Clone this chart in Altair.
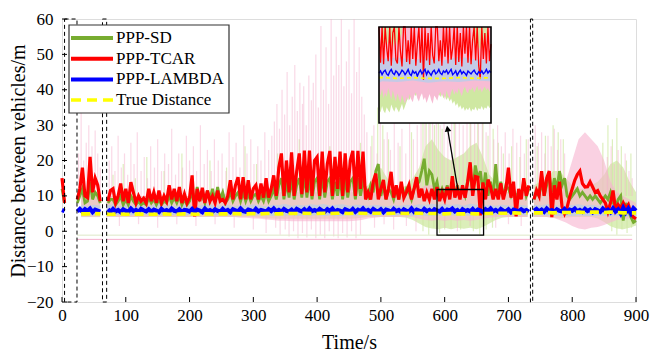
import altair as alt
import numpy as np
import pandas as pd

# ---------------------------------------------------------------- layout
PLOT_W, PLOT_H = 574, 283
PAD = {"left": 62, "top": 19, "right": 14, "bottom": 53}
FONT = "Times New Roman, Liberation Serif, Tinos, DejaVu Serif, serif"

X_DOMAIN = [0, 900]
Y_DOMAIN = [-20, 60]
X_TICKS = [0, 100, 200, 300, 400, 500, 600, 700, 800, 900]
Y_TICKS = [-20, -10, 0, 10, 20, 30, 40, 50, 60]

SERIES = ["PPP-SD", "PPP-TCAR", "PPP-LAMBDA", "True Distance"]
COLORS = ["#77ac30", "#ff0000", "#0000ff", "#ffff00"]
DASHES = [None, None, None, [10, 6]]

PINK = "#f6b3cf"
LIGHT_GREEN = "#cfe8a2"
LIGHT_BLUE = "#aed0ee"

# outage windows (s), outlined with dashed boxes
GAPS = [(4, 23.5), (63.5, 70), (734.5, 738)]
FLOOR_END = 894

# magnified window (s, m) and where its enlargement sits in the plot (px)
ZOOM_T = [588, 661]
ZOOM_V = [-1.1, 11.8]
INSET_X = [317, 429]
INSET_Y = [104, 8]
ARROW = {"t": 620.7, "v": 11.8, "t2": 604.5, "v2": 29.0}

# ---------------------------------------------------------------- sample grids
T4 = np.arange(0, 901, 4)
T10 = np.arange(0, 901, 10)
TZ = np.arange(588, 662, 1)

N = None

# inter-vehicle distance estimates on the 4 s grid (m)
RED_TCAR = [
    15, 8, N, N, N, N, 9, 12, 18, 10,
    9.5, 21, 11, 15, 13, 8.5, N, N, 8.5, 11.5,
    12, 8, 10, 13.5, 8.5, 12, 8, 13.9, 11, 8,
    10, 8.5, 9.3, 8, 12, 8.5, 11, 8, 11.5, 8,
    10, 8.5, 13, 9, 12, 8.5, 12.5, 8, 10.5, 8,
    9.5, 15.8, 4.2, 12, 8.5, 12.3, 8, 11.5, 8.5, 10,
    8, 11.5, 8.5, 9, 8, 10, 14.4, 9, 13, 15.3,
    9, 15.3, 9, 14.4, 9, 12, 13, 9, 13.5, 9.5,
    15, 9.5, 12, 15.8, 10, 18, 22, 10, 20, 11,
    22.3, 10, 17, 22, 10.5, 22.8, 11, 22.8, 10, 20,
    21, 10, 22.5, 11, 19, 22.7, 10, 21, 12, 22.5,
    10, 22, 11, 20, 22.7, 10, 22.7, 12, 22.5, 9,
    11, 9, 14, 16.3, 9, 12, 14.5, 9, 12, 16.8,
    9.5, 13, 9, 14, 9.5, 11, 13, 9, 12, 15.3,
    9.5, 12, 8.5, 11, 9, 12, 9, 12.5, 8.5, 11,
    9, 12.5, 9, 15.6, 9.5, 12, 9, 13, 9.5, 14,
    19.5, 10, 15.5, 15.3, 4.5, 13.8, 9, 14.6, 12.5, 9,
    12, 9, 13.6, 9, 12, 18, 9.5, 14, 4.2, 12,
    9, 15, 10, 13, N, 9, 11.6, 10, 17, 10,
    15, 17, 4, 13, 9, 14, 7, 5, 6.8, 9.7,
    12, 14.4, 16, 17, 13.5, 12.5, 12.6, 14, 12.5, 11,
    11.5, 10, 9, 8, 5.5, 8, 11.5, 6, 7.5, 6.5,
    8, 6.5, 7.5, 5, 4, 3.5,
]
GREEN_SD = [
    12, 8, N, N, N, N, 8, 10, 12, 8,
    8.5, 14, 9, 11, 10, 8, N, N, 8, 9,
    9, 7.5, 8.5, 10, 7.5, 9, 7.5, 10, 8.5, 7.5,
    8.5, 7.5, 8, 7.5, 9.5, 8, 9, 7.5, 9, 7.5,
    8.5, 8, 10, 8, 9.5, 8, 10, 7.5, 9, 7.5,
    8.5, 11, 8, 12.5, 9, 10, 8, 11.5, 9, 12,
    8.5, 12.5, 9, 11, 8, 9, 11, 8.5, 10, 11,
    8.5, 11, 8.5, 10.5, 8.5, 10, 10.5, 8.5, 10, 8.5,
    11, 8.5, 10, 12, 9, 13, 15, 9, 14, 9.5,
    15, 9, 13, 15, 9.5, 16, 9.5, 15, 9, 14,
    15, 9, 16, 9.5, 14, 15, 9, 14, 10, 15,
    9, 15, 9.5, 14, 15, 9, 15, 10, 14, 12,
    10, 13, 11, 17, 19, 10, 13, 9, 12, 11,
    9, 12, 9, 13, 10, 12, 11, 9, 12, 13,
    14, 17, 20.5, 13, 17, 16, 12, 14, 10, 12,
    10, 13, 9.5, 14, 10, 13, 9.5, 12, 10, 14,
    16, 11, 18.6, 15, 17, 11, 16.6, 10, 14, 9.5,
    19, 10, 14, 9.5, 13, 12, 10, 12, 9.5, 11,
    10, 14, 10, 12, N, 9, 11, 10, 14, 10,
    13, 16, 11, 15, 12, 17, 13, 15, 10, 9,
    10, 11, 12, 10, 11, 10, 9, 10, 9, 10,
    9, 8, 9, 10, 9, 11, 8, 7, 9, 10,
    3, 8, 6, 4, 2.5, 3,
]
BLUE_LAMBDA = [
    6.0, 5.7, N, N, N, N, 5.6, 6.3, 5.5, 6.2,
    5.7, 6.4, 5.4, 6.1, 5.8, 5.5, N, N, 6.2, 5.5,
    6.3, 5.6, 6.0, 5.4, 6.2, 5.8, 5.5, 6.4, 5.7, 6.0,
    5.4, 6.3, 5.9, 5.6, 6.2, 5.5, 6.1, 5.8, 5.4, 6.3,
    5.7, 6.0, 5.5, 6.4, 5.8, 5.6, 6.2, 5.4, 6.0, 5.9,
    5.6, 6.3, 5.5, 6.1, 5.8, 5.4, 6.4, 5.7, 6.0, 5.5,
    6.2, 5.8, 5.5, 6.3, 5.6, 6.0, 5.4, 6.2, 5.9, 5.6,
    6.4, 5.7, 5.5, 6.1, 5.9, 5.4, 6.3, 5.6, 6.0, 5.8,
    5.5, 6.2, 5.7, 6.4, 5.6, 6.0, 5.5, 6.3, 5.8, 5.6,
    6.1, 5.4, 6.3, 5.9, 5.6, 6.2, 5.5, 6.4, 5.7, 6.0,
    5.6, 6.3, 5.8, 5.5, 6.2, 5.7, 6.4, 5.5, 6.0, 5.8,
    5.4, 6.2, 5.9, 5.6, 6.3, 5.5, 6.1, 5.7, 6.4, 5.6,
    6.0, 5.5, 6.3, 5.8, 5.6, 6.2, 5.4, 6.1, 5.9, 5.5,
    6.3, 5.7, 6.0, 5.4, 6.2, 5.8, 5.6, 6.4, 5.5, 6.1,
    5.8, 5.5, 6.3, 5.7, 6.0, 5.4, 6.2, 5.9, 5.6, 6.3,
    5.5, 6.1, 5.8, 6.4, 5.6, 6.0, 5.3, 6.2, 5.7, 6.0,
    5.6, 6.3, 5.5, 6.1, 5.9, 5.4, 6.2, 5.7, 6.4, 5.6,
    6.0, 5.5, 6.3, 5.8, 5.6, 6.2, 5.4, 6.1, 5.9, 5.6,
    6.2, 5.7, 6.0, 5.5, N, 5.8, 6.3, 5.6, 6.1, 5.5,
    6.4, 5.7, 6.0, 5.5, 6.2, 5.8, 5.6, 6.3, 5.5, 6.1,
    5.8, 6.4, 5.6, 6.0, 5.5, 6.3, 5.7, 6.1, 5.4, 6.2,
    5.9, 5.5, 6.4, 5.7, 6.1, 5.4, 6.5, 5.6, 6.2, 5.0,
    6.6, 5.3, 6.4, 5.1, 6.5, 5.8,
]

# reference distance and uncertainty envelopes on the 10 s grid (m)
TRUE_DIST = [
    5.0, N, N, 4.9, 4.9, 5.0, 4.9, 4.8, 4.8, 4.9,
    4.8, 4.8, 4.9, 4.8, 4.8, 4.8, 4.9, 4.8, 4.8, 4.9,
    4.9, 4.8, 4.9, 4.9, 4.8, 4.9, 4.9, 5.0, 4.9, 4.9,
    5.0, 4.9, 5.0, 5.0, 4.9, 5.0, 5.0, 5.0, 5.1, 5.0,
    5.0, 5.1, 5.0, 5.1, 5.1, 5.0, 5.1, 5.1, 5.0, 5.1,
    5.1, 5.0, 5.1, 5.1, 5.0, 5.1, 5.1, 5.0, 5.0, 5.0,
    4.9, 5.0, 4.9, 4.9, 5.0, 4.9, 5.0, 5.0, 5.1, 5.1,
    5.1, 5.2, 5.1, 5.2, 5.2, 5.2, 5.3, 5.2, 5.3, 5.3,
    5.3, 5.4, 5.3, 5.4, 5.4, 5.3, 5.4, 5.3, 5.2, 5.2,
    5.2,
]
PINK_HI = [
    11, N, N, 11, 12, 11, 10, 10, 10, 10,
    10, 10, 10, 10, 10, 10, 10, 10, 10, 10,
    10, 11, 10, 10, 10, 10, 11, 11, 11, 11,
    11, 11, 12, 12, 13, 13, 13, 13, 13, 13,
    13, 13, 13, 13, 13, 13, 13, 12, 11, 11,
    11, 11, 11, 11, 11, 11, 12, 13, 13, 12,
    12, 12, 12, 12, 13, 12, 11, 11, 11, 11,
    11, 11, 11, 11, 11, 11, 12, 12, 12, 14,
    20, 26, 28, 26, 24, 20, 14, 11, 10, 9,
    8,
]
PINK_LO = [
    4, N, N, 4, 4, 4, 4, 4, 4, 4,
    4, 4, 4, 4, 4, 4, 4, 4, 4, 4,
    4, 4, 4, 4, 4, 4, 4, 4, 3.8, 3.8,
    3.6, 3.5, 3.3, 3.2, 3.0, 3.0, 2.8, 2.8, 2.8, 2.8,
    2.8, 2.8, 2.8, 2.8, 2.8, 2.8, 3.0, 3.2, 3.6, 3.8,
    4, 4, 4, 4, 4, 4, 3.5, 3.2, 3.0, 3.2,
    3.0, 3.2, 3.0, 3.2, 3.0, 3.2, 3.5, 3.8, 4, 4,
    4, 4, 4, 4, 4, 4, 4, 3.8, 3.2, 2.5,
    1.5, 0.8, 0.5, 1, 1.2, 1.8, 2.5, 3.2, 3.5, 3.5,
    3.5,
]
GREEN_HI = [
    10, N, N, 10, 10, 10, 10, 10, 10, 10,
    10, 10, 10, 10, 10, 10, 10, 10, 10, 10,
    10, 11, 10, 11, 10, 11, 10, 10, 10, 10,
    10, 10, 10, 11, 11, 11, 11, 11, 11, 11,
    11, 11, 11, 11, 11, 11, 11, 12, 13, 16,
    18, 15, 13, 12, 13, 15, 18, 24, 26, 23,
    21, 20, 21, 22, 24, 25, 21, 16, 14, 12,
    11, 11, 12, 13, 13, 14, 15, 17, 17, 15,
    13, 12, 12, 13, 14, 16, 19, 20, 18, 14,
    11,
]
GREEN_LO = [
    4, N, N, 4, 4, 4, 4, 4, 4, 4,
    4, 4, 4, 4, 4, 4, 4, 4, 4, 4,
    4, 4, 4, 4, 4, 4, 4, 4, 4, 4,
    4, 3.8, 3.6, 3.6, 3.5, 3.5, 3.5, 3.5, 3.5, 3.5,
    3.5, 3.5, 3.5, 3.5, 3.5, 3.5, 3.6, 3.8, 4, 4,
    4, 4, 4, 4, 3.8, 3.2, 2.2, 1.2, 0.8, 0.6,
    1.0, 0.6, 1.0, 0.7, 1.0, 0.6, 1.2, 2.2, 3.2, 3.8,
    4, 4, 4, 4, 4, 4, 4, 3.8, 3.6, 3.8,
    4, 4, 4, 4, 3.6, 2.6, 1.4, 0.8, 0.6, 1.0,
    1.6,
]
LB_HI = [
    7.2, N, N, 7.4, 7.1, 7.5, 7.2, 7.3, 7.6, 7.1,
    7.4, 7.2, 7.5, 7.0, 7.3, 7.6, 7.2, 7.4, 7.1, 7.5,
    7.3, 7.0, 7.4, 7.6, 7.2, 7.3, 7.5, 7.1, 7.4, 7.2,
    7.6, 7.3, 7.1, 7.5, 7.4, 7.7, 7.2, 7.5, 7.3, 7.6,
    7.4, 7.7, 7.3, 7.5, 7.6, 7.2, 7.5, 7.4, 7.2, 7.5,
    7.3, 7.1, 7.4, 7.2, 7.5, 7.3, 7.6, 7.4, 7.8, 7.5,
    7.7, 7.4, 7.6, 7.3, 7.8, 7.5, 7.3, 7.4, 7.2, 7.5,
    7.3, 7.1, 7.4, 7.2, 7.5, 7.3, 7.6, 7.4, 7.2, 7.5,
    7.4, 7.6, 7.3, 7.5, 7.2, 7.4, 7.6, 7.3, 7.5, 7.2,
    7.1,
]
LB_LO = [
    4.6, N, N, 4.5, 4.7, 4.4, 4.6, 4.5, 4.7, 4.6,
    4.4, 4.6, 4.5, 4.7, 4.5, 4.4, 4.6, 4.5, 4.7, 4.4,
    4.6, 4.5, 4.7, 4.4, 4.6, 4.5, 4.4, 4.7, 4.5, 4.6,
    4.4, 4.6, 4.5, 4.3, 4.5, 4.4, 4.6, 4.3, 4.5, 4.4,
    4.6, 4.3, 4.5, 4.4, 4.3, 4.6, 4.4, 4.5, 4.6, 4.4,
    4.5, 4.7, 4.4, 4.6, 4.5, 4.3, 4.5, 4.4, 4.3, 4.5,
    4.4, 4.6, 4.3, 4.5, 4.4, 4.6, 4.5, 4.4, 4.6, 4.5,
    4.7, 4.5, 4.6, 4.4, 4.5, 4.6, 4.4, 4.5, 4.3, 4.4,
    4.3, 4.5, 4.4, 4.3, 4.5, 4.4, 4.2, 4.3, 4.1, 4.2,
    4.3,
]

# isolated excursions of the uncertainty bands: (time s, extreme m)
SPIKE_BASE = 10
DIP_BASE = 5
PINK_SPIKES = [
    (26, 22), (30, 34), (34, 20), (38, 25), (42, 30), (47, 24), (52, 28.5), (56, 22), (60, 18),
    (74, 20), (78, 24), (83, 17), (88, 27), (93, 18), (98, 22), (103, 16), (108, 25), (113, 19),
    (118, 28), (124, 17), (129, 21), (134, 15), (139, 24), (145, 18), (150, 26), (156, 17),
    (161, 22), (167, 19), (172, 29), (178, 16), (183, 22), (189, 18), (195, 27), (200, 20),
    (206, 24), (211, 17), (217, 30), (223, 19), (228, 23), (234, 17), (239, 26), (245, 20),
    (251, 22), (257, 17), (262, 28), (268, 21), (273, 25), (279, 18), (285, 30), (290, 22),
    (296, 26), (301, 19), (307, 24), (312, 20), (318, 28), (324, 23), (329, 27),
    (333, 31), (337, 36), (341, 29), (345, 40), (349, 33), (353, 45), (357, 30), (361, 38),
    (365, 47), (369, 34), (373, 42), (377, 36), (379, 41), (383, 30), (387, 44), (391, 37),
    (394, 42), (398, 50), (402, 35), (406, 58), (410, 40), (414, 52), (418, 36), (422, 60),
    (426, 44), (430, 55), (434, 47), (438, 60), (442, 41), (446, 48), (450, 57), (454, 39),
    (458, 60), (462, 45), (466, 52), (470, 38), (474, 33), (478, 28),
    (484, 24), (489, 30), (494, 22), (499, 35), (505, 26), (510, 28), (515, 23), (521, 31),
    (527, 25), (533, 29), (539, 22), (545, 33), (551, 26), (557, 30),
    (563, 40), (569, 36), (575, 45), (581, 32), (587, 38), (593, 30), (599, 36), (605, 28),
    (611, 40), (617, 33), (623, 37), (629, 30), (635, 42), (641, 34), (647, 38), (653, 31),
    (659, 36), (665, 28), (671, 32), (677, 26), (683, 30), (689, 24), (695, 28), (701, 22),
    (707, 29), (713, 25), (719, 27), (725, 22), (731, 26),
    (742, 30), (747, 25), (752, 28), (757, 22), (762, 27), (767, 24), (772, 29), (777, 23),
    (782, 26), (788, 22), (855, 21), (861, 24), (866, 19), (872, 23), (877, 18), (883, 22),
    (889, 17), (894, 15),
]
PINK_DIPS = [
    (90, 1.5), (120, 2), (150, 1), (180, 2), (210, 1.5), (240, 2), (270, 1), (300, 0.5),
    (320, -0.5), (335, 1), (342, -1), (350, 0.5), (356, -1.5), (363, 0), (370, -2),
    (377, -0.5), (384, -1.8), (391, 0.5), (398, -2), (405, -1), (412, -2), (419, 0),
    (426, -1.5), (433, -2), (440, -0.5), (447, -1.8), (454, 0), (461, -2), (468, -1),
    (490, 1), (505, 2), (520, 0.5), (540, 1.5), (555, 0), (600, 1), (620, 0), (640, 1.5),
    (680, 1), (700, 2), (720, 1.5),
]
GREEN_SPIKES = [
    (80, 16), (96, 19), (115, 15), (133, 21), (160, 17), (188, 22), (205, 16), (232, 20),
    (258, 18), (287, 24), (305, 19), (338, 22), (372, 26), (395, 20), (420, 24), (445, 21),
    (468, 25), (486, 27), (495, 35), (503, 30), (512, 26), (530, 24), (548, 28), (566, 38),
    (571, 33), (577, 40), (584, 30), (590, 36), (596, 29), (615, 32), (640, 35), (652, 38),
    (660, 31), (668, 27), (676, 29), (684, 25), (692, 22), (705, 24), (718, 21), (728, 26),
    (745, 24), (758, 27), (770, 30), (778, 28), (786, 26), (848, 25), (856, 30), (863, 26),
    (870, 32), (877, 24), (885, 20), (892, 22),
]
GREEN_DIPS = [
    (566, 0), (575, -1), (583, 1), (592, -0.5), (600, 0.5), (610, 1), (625, 0.5), (645, 0),
    (655, -1), (665, 0.5), (675, 1), (862, 0), (870, -1), (878, 0.5), (886, -0.5), (893, 1),
]
FLOOR_PINK = -2.3
FLOOR_GREEN = -1.1

# magnified window, 1 s samples (m)
INSET_RED = [
    14, 7.0, 12, 6.8, 16, 9, 7.2, 13, 6.6, 11, 15, 7.4, 6.9, 14, 8.5, 6.5, 12, 16, 7.1, 10,
    6.8, 15, 7.5, 13, 6.6, 9.5, 16, 7.0, 12, 4.7, 14, 7.3, 11, 6.7, 15, 8, 6.9, 13, 16, 7.2,
    10, 6.6, 14, 7.8, 12, 6.9, 16, 7.4, 9, 15, 6.7, 13, 7.1, 11, 6.5, 16, 8.2, 12, 7.0, 14,
    6.8, 10, 15, 7.3, 13, 6.6, 4.8, 16, 7.5, 11, 6.9, 14, 7.2, 9.5,
]
INSET_BLUE = [
    5.6, 5.9, 5.4, 5.8, 6.0, 5.5, 5.3, 5.8, 6.1, 5.6, 5.4, 5.9, 5.7, 5.3, 5.6, 6.0, 5.8, 5.4, 5.7, 6.1,
    5.5, 5.3, 5.9, 5.6, 5.8, 5.2, 5.7, 6.0, 5.5, 5.8, 6.1, 5.4, 5.9, 5.6, 5.3, 5.8, 6.0, 5.5, 5.7, 6.1,
    5.6, 5.4, 5.9, 5.7, 6.0, 5.5, 5.8, 6.1, 5.4, 5.6, 5.9, 5.3, 5.7, 6.0, 5.5, 5.8, 5.6, 5.3, 5.9, 5.7,
    5.5, 5.8, 6.0, 5.6, 5.4, 5.8, 5.6, 5.9, 5.5, 5.7, 6.1, 5.6, 5.9, 5.7,
]
INSET_PINK_LO = [
    3.2, 2.6, 3.5, 2.2, 3.0, 2.4, 3.6, 2.8, 2.0, 3.3, 2.5, 1.8, 2.9, 2.2, 1.6, 2.7, 2.0, 1.5, 2.4, 1.9,
    2.8, 2.1, 1.7, 2.6, 3.0, 2.2, 1.8, 2.5, 2.9, 2.0, 2.4, 1.6, 2.2, 2.8, 2.0, 1.5, 2.6, 2.3, 1.9, 2.7,
    3.1, 2.4, 2.9, 2.0, 3.3, 2.6, 2.2, 3.0, 3.5, 2.7, 3.2, 2.8, 3.6, 3.0, 2.5, 3.4, 3.8, 3.1, 2.9, 3.5,
    3.3, 3.7, 3.0, 3.4, 3.9, 3.2, 3.6, 3.0, 3.5, 3.8, 3.3, 3.6, 3.1, 3.4,
]
INSET_GREEN_LO = [
    0.8, 0.3, 1.2, 0.5, 0.2, 1.0, 0.6, 0.3, 1.4, 0.8, 0.4, 1.1, 0.7, 0.3, 0.9, 1.5, 0.6, 1.2, 1.8, 2.4,
    2.0, 2.6, 2.2, 2.9, 2.5, 3.0, 2.4, 2.8, 3.2, 2.6, 3.0, 2.5, 2.9, 3.3, 2.7, 2.2, 2.9, 3.1, 2.5, 2.8,
    2.4, 2.9, 2.2, 2.6, 2.0, 2.4, 1.8, 2.2, 1.5, 1.9, 1.2, 1.6, 0.9, 1.3, 0.7, 1.1, 0.5, 0.9, 0.6, 1.0,
    0.4, 0.8, 0.6, 1.1, 0.5, 0.9, 0.7, 1.2, 0.6, 1.0, 0.8, 1.3, 0.9, 1.1,
]
INSET_GREEN_HI = 5.0
INSET_GREEN_PATCH = (
    [N] * 2
    + [10.2, 9.5, 9.8, 9.2, 10.0, 9.4, 9.7, 9.1, 9.6, 10.1, 9.3, 9.8, 10.4, 11.0]
    + [N] * 45
    + [10.5, 9.6, 9.0, 9.4, 8.8, 9.2, 8.7, 9.5, 9.9, 10.3, 11.0]
    + [N] * 2
)


# ---------------------------------------------------------------- tables
def segmented(t, **cols):
    df = pd.DataFrame({"t": t, **cols}).dropna()
    df["seg"] = sum((df["t"] > g0).astype(int) for g0, _ in GAPS)
    return df


red_df = segmented(T4, v=RED_TCAR)
green_df = segmented(T4, v=GREEN_SD)
blue_df = segmented(T4, v=BLUE_LAMBDA)
true_df = segmented(T10, v=TRUE_DIST)
pink_band = segmented(T10, lo=PINK_LO, hi=PINK_HI)
green_band = segmented(T10, lo=GREEN_LO, hi=GREEN_HI)
lb_band = segmented(T10, lo=LB_LO, hi=LB_HI)


def spikes(pairs, base):
    df = pd.DataFrame(pairs, columns=["t", "top"])
    df["base"] = base
    return df


pink_up = spikes(PINK_SPIKES, SPIKE_BASE)
pink_dn = spikes(PINK_DIPS, DIP_BASE)
green_up = spikes(GREEN_SPIKES, SPIKE_BASE)
green_dn = spikes(GREEN_DIPS, DIP_BASE)

floor_starts = [g1 for _, g1 in GAPS]
floor_ends = [g0 for g0, _ in GAPS[1:]] + [FLOOR_END]
floors = pd.DataFrame({"t": floor_starts, "t2": floor_ends})
floors["pink"] = FLOOR_PINK
floors["green"] = FLOOR_GREEN

gap_boxes = pd.DataFrame({"t": [g[0] for g in GAPS], "t2": [g[1] for g in GAPS]})
gap_boxes["v"] = Y_DOMAIN[0]
gap_boxes["v2"] = Y_DOMAIN[1]

zoom_box = pd.DataFrame({"t": [ZOOM_T[0]], "t2": [ZOOM_T[1]], "v": [ZOOM_V[0]], "v2": [ZOOM_V[1]]})
arrow_df = pd.DataFrame([ARROW])
xtick_df = pd.DataFrame({"t": X_TICKS})
ytick_df = pd.DataFrame({"v": Y_TICKS})

# ---------------------------------------------------------------- main panel
XS = alt.Scale(domain=X_DOMAIN, nice=False, zero=False)
YS = alt.Scale(domain=Y_DOMAIN, nice=False, zero=False)
X_AX = alt.Axis(
    values=X_TICKS, title="Time/s", ticks=False, domain=False, grid=False,
    labelFont=FONT, labelFontSize=17, labelColor="black", labelPadding=5, labelFlush=False,
    titleFont=FONT, titleFontSize=20, titleFontWeight="normal", titleColor="black",
    titleY=40, titleBaseline="middle",
)
Y_AX = alt.Axis(
    values=Y_TICKS, title="Distance between vehicles/m", ticks=False, domain=False, grid=False,
    labelFont=FONT, labelFontSize=17, labelColor="black", labelPadding=9, labelFlush=False,
    titleFont=FONT, titleFontSize=20, titleFontWeight="normal", titleColor="black",
    titleX=-44, titleY=PLOT_H / 2, titleAngle=270, titleAlign="center", titleBaseline="middle",
)


def X(field="t"):
    return alt.X(f"{field}:Q", scale=XS, axis=X_AX)


def Y(field="v"):
    return alt.Y(f"{field}:Q", scale=YS, axis=Y_AX)


def band(df, color, opacity):
    return alt.Chart(df).mark_area(color=color, opacity=opacity).encode(
        x=X(), y=Y("lo"), y2="hi:Q", detail="seg:N")


def spike_layer(df, color, opacity):
    return alt.Chart(df).mark_rule(color=color, opacity=opacity, strokeWidth=1.2).encode(
        x=X(), y=Y("base"), y2="top:Q")


def line(df, color, width, dash=None):
    props = dict(color=color, strokeWidth=width)
    if dash:
        props["strokeDash"] = dash
    return alt.Chart(df).mark_line(**props).encode(x=X(), y=Y(), detail="seg:N")


main_layers = [
    band(green_band, LIGHT_GREEN, 0.75),
    spike_layer(green_up, LIGHT_GREEN, 0.7),
    spike_layer(green_dn, LIGHT_GREEN, 0.7),
    band(pink_band, PINK, 0.6),
    spike_layer(pink_up, PINK, 0.5),
    spike_layer(pink_dn, PINK, 0.5),
    band(lb_band, LIGHT_BLUE, 0.6),
    alt.Chart(floors).mark_rule(color=PINK, strokeWidth=1).encode(x=X(), x2="t2:Q", y=Y("pink")),
    alt.Chart(floors).mark_rule(color="#dde8c8", strokeWidth=1).encode(x=X(), x2="t2:Q", y=Y("green")),
    line(green_df, COLORS[0], 2.8),
    line(red_df, COLORS[1], 3.2),
    line(blue_df, COLORS[2], 4.2),
    line(true_df, COLORS[3], 3.6, [9, 5]),
    alt.Chart(gap_boxes).mark_rect(fillOpacity=0, stroke="black", strokeWidth=1, strokeDash=[4, 3]).encode(
        x=X(), x2="t2:Q", y=Y(), y2="v2:Q"),
    alt.Chart(zoom_box).mark_rect(fillOpacity=0, stroke="black", strokeWidth=1.3).encode(
        x=X(), x2="t2:Q", y=Y(), y2="v2:Q"),
    alt.Chart(arrow_df).mark_rule(color="black", strokeWidth=1.3).encode(
        x=X(), x2="t2:Q", y=Y(), y2="v2:Q"),
    alt.Chart(arrow_df).mark_point(shape="triangle-up", filled=True, color="black", opacity=1,
                                   size=45, angle=350).encode(x=X("t2"), y=Y("v2")),
    alt.Chart(xtick_df).mark_rule(color="black", strokeWidth=1).encode(
        x=X(), y=alt.value(PLOT_H), y2=alt.value(PLOT_H - 5)),
    alt.Chart(ytick_df).mark_rule(color="black", strokeWidth=1).encode(
        y=Y(), x=alt.value(0), x2=alt.value(5)),
]

# legend box with line samples
LEG_BOX = [7, 6, 167, 94]
LEG_SYM = [9, 51]
LEG_TEXT_X = 54
LEG_ROW0, LEG_ROW_STEP = 19, 20.7

main_layers.append(
    alt.Chart(pd.DataFrame({"k": [0]})).mark_rect(fill="white", stroke="#333333", strokeWidth=1.2).encode(
        x=alt.value(LEG_BOX[0]), x2=alt.value(LEG_BOX[2]),
        y=alt.value(LEG_BOX[1]), y2=alt.value(LEG_BOX[3]))
)
for i, (name, color, dash) in enumerate(zip(SERIES, COLORS, DASHES)):
    row_y = LEG_ROW0 + i * LEG_ROW_STEP
    row = pd.DataFrame({"series": [name]})
    props = dict(color=color, strokeWidth=4 if dash is None else 3.5)
    if dash:
        props["strokeDash"] = dash
    main_layers.append(
        alt.Chart(row).mark_rule(**props).encode(
            x=alt.value(LEG_SYM[0]), x2=alt.value(LEG_SYM[1]), y=alt.value(row_y))
    )
    main_layers.append(
        alt.Chart(row).mark_text(align="left", baseline="middle", font=FONT, fontSize=17,
                                 color="black").encode(
            x=alt.value(LEG_TEXT_X), y=alt.value(row_y), text="series:N")
    )

main = alt.layer(*main_layers)

# ---------------------------------------------------------------- enlargement
XI = alt.Scale(domain=ZOOM_T, range=INSET_X, nice=False, zero=False, clamp=True)
YI = alt.Scale(domain=ZOOM_V, range=INSET_Y, nice=False, zero=False, clamp=True)


def XZ(field="t"):
    return alt.X(f"{field}:Q", scale=XI, axis=None)


def YZ(field="v"):
    return alt.Y(f"{field}:Q", scale=YI, axis=None)


inset_df = pd.DataFrame({
    "t": TZ, "red": INSET_RED, "blue": INSET_BLUE,
    "plo": INSET_PINK_LO, "glo": INSET_GREEN_LO,
})
inset_df["ghi"] = INSET_GREEN_HI
inset_df["top"] = ZOOM_V[1]
patch_df = pd.DataFrame({"t": TZ, "lo": INSET_GREEN_PATCH})
patch_df["seg"] = patch_df["lo"].isna().cumsum()
patch_df = patch_df.dropna()
patch_df["top"] = ZOOM_V[1]

near = lambda df: df[(df["t"] >= ZOOM_T[0] - 10) & (df["t"] <= ZOOM_T[1] + 10)]
lb_near = near(lb_band)
true_near = near(true_df)

inset = alt.layer(
    alt.Chart(zoom_box).mark_rect(fill="white").encode(x=XZ(), x2="t2:Q", y=YZ(), y2="v2:Q"),
    alt.Chart(inset_df).mark_area(color=LIGHT_GREEN).encode(x=XZ(), y=YZ("glo"), y2="ghi:Q"),
    alt.Chart(inset_df).mark_area(color="#f7bcd4").encode(x=XZ(), y=YZ("plo"), y2="top:Q"),
    alt.Chart(patch_df).mark_area(color=LIGHT_GREEN, opacity=0.85).encode(
        x=XZ(), y=YZ("lo"), y2="top:Q", detail="seg:N"),
    alt.Chart(lb_near).mark_area(color=LIGHT_BLUE, opacity=0.7).encode(x=XZ(), y=YZ("lo"), y2="hi:Q"),
    alt.Chart(inset_df).mark_line(color=COLORS[1], strokeWidth=1.3).encode(x=XZ(), y=YZ("red")),
    alt.Chart(inset_df).mark_line(color=COLORS[2], strokeWidth=1.4).encode(x=XZ(), y=YZ("blue")),
    alt.Chart(true_near).mark_line(color=COLORS[3], strokeWidth=1.6, strokeDash=[4, 3]).encode(
        x=XZ(), y=YZ()),
    alt.Chart(zoom_box).mark_rect(fillOpacity=0, stroke="black", strokeWidth=1.6).encode(
        x=XZ(), x2="t2:Q", y=YZ(), y2="v2:Q"),
)

chart = (
    alt.layer(main, inset)
    .resolve_scale(x="independent", y="independent")
    .properties(width=PLOT_W, height=PLOT_H, autosize="none", padding=PAD)
    .configure_view(stroke="black", strokeWidth=1)
    .configure(font=FONT, background="white")
)

chart.save("out.html", embed_options={"renderer": "svg", "actions": False})
